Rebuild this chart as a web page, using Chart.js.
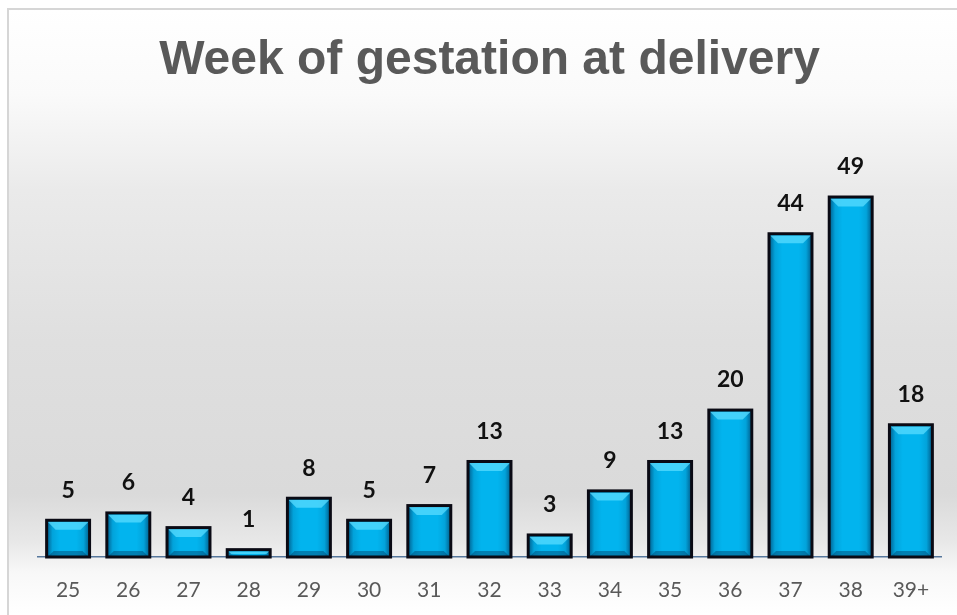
<!DOCTYPE html>
<html><head><meta charset="utf-8">
<script src="https://cdn.jsdelivr.net/npm/chart.js@4"></script>
<style>html,body{margin:0;padding:0;background:#fff}#wrap{width:957px;height:615px;position:relative}</style>
</head><body><div id="wrap"><canvas id="c" width="957" height="615"></canvas></div>
<script>
const chartTitle = 'Week of gestation at delivery';
const weeks = ['25','26','27','28','29','30','31','32','33','34','35','36','37','38','39+'];
const deliveries = [5,6,4,1,8,5,7,13,3,9,13,20,44,49,18];

const bgPlugin = {
  id: 'bg',
  beforeDraw(chart) {
    const ctx = chart.ctx, W = chart.width, H = chart.height;
    ctx.save();
    ctx.fillStyle = '#ffffff';
    ctx.fillRect(0, 0, W, H);
    const g = ctx.createLinearGradient(0, 9, 0, H);
    g.addColorStop(0, '#ffffff');
    g.addColorStop(0.14, '#fafafa');
    g.addColorStop(0.3, '#eaeaea');
    g.addColorStop(0.55, '#dfdfdf');
    g.addColorStop(0.8, '#dadada');
    g.addColorStop(0.88, '#e8e8e8');
    g.addColorStop(0.93, '#f8f8f8');
    g.addColorStop(1, '#ffffff');
    ctx.fillStyle = g;
    ctx.fillRect(8, 9, W, H);
    ctx.strokeStyle = '#d6d6d6';
    ctx.lineWidth = 2;
    ctx.strokeRect(8, 9, W + 20, H + 20);
    ctx.restore();
  }
};

const bevelPlugin = {
  id: 'bevel',
  afterDatasetsDraw(chart) {
    const ctx = chart.ctx;
    const meta = chart.getDatasetMeta(0);
    meta.data.forEach((bar, i) => {
      const p = bar.getProps(['x', 'y', 'base', 'width'], true);
      const x0 = p.x - p.width / 2, x1 = p.x + p.width / 2;
      const top = Math.min(p.y, p.base), bot = Math.max(p.y, p.base);
      const ix0 = x0 + 1.5, ix1 = x1 - 1.5, it = top + 1.5, ib = bot;
      const h = ib - it;
      if (h <= 0) return;
      const b = Math.min(8, h / 2);
      ctx.save();
      ctx.shadowColor = 'rgba(80,40,40,0.25)';
      ctx.shadowBlur = 4;
      ctx.shadowOffsetX = 1;
      ctx.shadowOffsetY = 1;
      ctx.restore();
      ctx.save();
      ctx.beginPath();
      ctx.rect(ix0, it, ix1 - ix0, h);
      ctx.clip();
      // side shading
      const hg = ctx.createLinearGradient(ix0, 0, ix1, 0);
      hg.addColorStop(0, 'rgba(0,40,80,0.55)');
      hg.addColorStop(0.12, 'rgba(0,40,80,0.12)');
      hg.addColorStop(0.3, 'rgba(0,40,80,0)');
      hg.addColorStop(0.7, 'rgba(0,40,80,0)');
      hg.addColorStop(0.88, 'rgba(0,40,80,0.12)');
      hg.addColorStop(1, 'rgba(0,40,80,0.55)');
      ctx.fillStyle = hg;
      ctx.fillRect(ix0, it, ix1 - ix0, h);
      // top bevel
      ctx.beginPath();
      ctx.moveTo(ix0, it);
      ctx.lineTo(ix1, it);
      ctx.lineTo(ix1 - b, it + b);
      ctx.lineTo(ix0 + b, it + b);
      ctx.closePath();
      ctx.fillStyle = 'rgba(90,220,255,0.75)';
      ctx.fill();
      // bottom bevel
      const bb = Math.min(6, h / 3);
      ctx.beginPath();
      ctx.moveTo(ix0, ib);
      ctx.lineTo(ix1, ib);
      ctx.lineTo(ix1 - bb, ib - bb);
      ctx.lineTo(ix0 + bb, ib - bb);
      ctx.closePath();
      ctx.fillStyle = 'rgba(0,50,90,0.4)';
      ctx.fill();
      ctx.restore();
      // outline
      ctx.save();
      ctx.strokeStyle = '#0a0a14';
      ctx.lineWidth = 3;
      ctx.strokeRect(x0 + 0.5, top, x1 - x0 - 1, bot - top);
      ctx.restore();
      // label
      ctx.save();
      ctx.font = 'bold 23px Lato, "Liberation Sans", sans-serif';
      ctx.fillStyle = '#111111';
      ctx.textAlign = 'center';
      ctx.textBaseline = 'middle';
      ctx.fillText(String(deliveries[i]), p.x, top - 30);
      ctx.restore();
    });
  }
};

new Chart(document.getElementById('c'), {
  type: 'bar',
  data: {
    labels: weeks,
    datasets: [{
      data: deliveries,
      backgroundColor: '#02b4ee',
      borderWidth: 0,
      categoryPercentage: 1,
      barPercentage: 0.73
    }]
  },
  options: {
    responsive: false,
    animation: false,
    devicePixelRatio: 1,
    layout: { padding: { left: 38, right: 16, top: 0, bottom: 0 } },
    plugins: {
      legend: { display: false },
      tooltip: { enabled: false },
      title: {
        display: true,
        text: chartTitle,
        color: '#595959',
        font: { family: '"Liberation Sans", Arial, sans-serif', size: 48, weight: 'bold' },
        padding: { top: 32, bottom: 26.6 }
      }
    },
    scales: {
      y: { display: false, min: 0, max: 60 },
      x: {
        grid: { display: false, drawTicks: false },
        border: { display: true, color: '#56779c', width: 1.5 },
        ticks: { color: '#595959', font: { family: 'Lato, "Liberation Sans", sans-serif', size: 21 }, padding: 21 },
        afterFit(scale) { scale.height = 58; }
      }
    }
  },
  plugins: [bgPlugin, bevelPlugin]
});
</script>
</body></html>
